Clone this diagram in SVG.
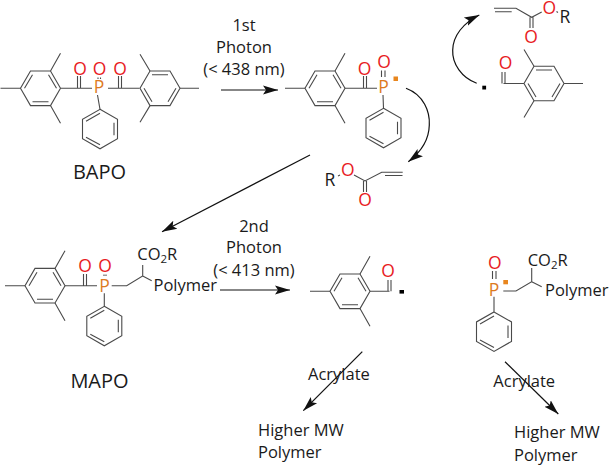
<svg xmlns="http://www.w3.org/2000/svg" width="609" height="466" viewBox="0 0 609 466">
<style>
text{font-family:"Open Sans","Noto Sans","Liberation Sans",sans-serif;fill:#1a1a1a}
.t{font-size:16.5px;text-anchor:middle}
.l{font-size:16.5px}
.n{font-size:20px;text-anchor:middle}
.o{font-size:17.5px;text-anchor:middle;fill:#e81c24}
.p{font-size:17.5px;text-anchor:middle;fill:#dd7a1e}
.r{font-size:17.5px;text-anchor:middle}
.b{fill:none;stroke:#4a4a4a;stroke-width:1.1}
.a{fill:none;stroke:#111;stroke-width:1.2}
</style>
<defs>
<marker id="h" markerUnits="userSpaceOnUse" markerWidth="16" markerHeight="12" viewBox="0 0 16 12" refX="15" refY="6" orient="auto"><path d="M0 1.5L15 6L0 10.5L3 6Z" fill="#111"/></marker>
<g id="ring1"><path class="b" d="M20 0L10-17.3H-10L-20 0L-10 17.3H10ZM-16 0L-8-13.5M16 0L8-13.5M-8 13.5H8"/></g>
<g id="ring2"><path class="b" d="M20 0L10-17.3H-10L-20 0L-10 17.3H10ZM-8-13.5H8M-16 0L-8 13.5M16 0L8 13.5"/></g>
<g id="mes1"><use href="#ring1"/><path class="b" d="M-20 0H-40M10-17.3L20-35M10 17.3L20 35"/></g>
<g id="mes2"><use href="#ring2"/><path class="b" d="M20 0H39M-10-17.3L-20-34M-10 17.3L-20 34"/></g>
<g id="ph"><path class="b" d="M0-19.5L17.5-9.5V10L0 20L-17.5 10V-9.5ZM-14-7.5L0-15.5M14-6V6.5M-14 8.5L0 16"/></g>
</defs>

<g id="bapo">
<use href="#mes1" x="40.5" y="88.3"/>
<use href="#mes2" x="160" y="88.3"/>
<use href="#ph" x="100" y="128.8"/>
<path class="b" d="M60.7 88.3H92M77.5 88.3V76M80.5 88.3V76M108 88.3H139.5M118.5 88.3V76M121.5 88.3V76M97.5 95L100 109.3M98 77.5V79M100.5 77.5V79"/>
<text class="o" x="80" y="74.5">O</text><text class="o" x="99.5" y="74.5">O</text><text class="o" x="120" y="74.5">O</text>
<text class="p" x="99" y="93">P</text>
<text class="n" x="99.5" y="179">BAPO</text>
</g>

<g id="radical-1">
<use href="#mes1" x="325" y="88.3"/>
<use href="#ph" x="383.5" y="127.8"/>
<path class="b" d="M345 88.3H377M363.5 88.3V76M366.5 88.3V76M381.5 70.5V77M385 70.5V77M383 95L383.5 108.3"/>
<text class="o" x="364.5" y="74.5">O</text><text class="o" x="384" y="68">O</text>
<text class="p" x="383.5" y="92.5">P</text>
<rect x="393.5" y="76.5" width="4.5" height="4.5" fill="#e8861e"/>
</g>

<g id="acrylate-1">
<path class="b" d="M354 175L365 181L381.7 172.3H402.7M385 175.5H402.5M363.5 181V192M366.5 181V192M338 176L340 175"/>
<text class="r" x="330" y="186">R</text>
<text class="o" x="347.7" y="176">O</text>
<text class="o" x="365" y="206">O</text>
</g>

<g id="acrylate-2">
<path class="b" d="M494 8.3H516L531.7 17.3L541.7 12M495 11.7H511.7M530 17.3V28M533 17.3V28M556.5 11.5L558 12.5"/>
<text class="o" x="549.3" y="14">O</text>
<text class="r" x="565" y="23">R</text>
<text class="o" x="531" y="42.5">O</text>
</g>

<g id="aroyl-radical-1">
<use href="#mes2" x="544" y="83.5"/>
<path class="b" d="M524 83.5H503.5M502 83.5V72M505 83.5V72"/>
<text class="o" x="505.5" y="69">O</text>
<rect x="482.3" y="85.7" width="3.8" height="3.8" fill="#000"/>
</g>

<g id="mapo">
<use href="#mes1" x="45" y="285.7"/>
<use href="#ph" x="104.3" y="325.8"/>
<path class="b" d="M65 285.7H97M83.5 285.7V274M86.5 285.7V274M104 274.5V276M106 274.5V276M104.3 293.3V306M111.7 285.7H126.7L142.7 276V265M142.7 276L151.7 280.7"/>
<text class="o" x="85" y="271.5">O</text><text class="o" x="105" y="271.5">O</text>
<text class="p" x="104.5" y="291.5">P</text>
<text class="l" x="137.3" y="260">CO<tspan font-size="11.5" dy="3">2</tspan><tspan dy="-3">R</tspan></text>
<text class="l" x="153.5" y="290.7">Polymer</text>
<text class="n" x="99.5" y="387.7">MAPO</text>
</g>

<g id="aroyl-radical-2">
<use href="#mes1" x="350" y="291.3"/>
<path class="b" d="M370 291.3H389.5M388 291.3V280M391 291.3V280"/>
<text class="o" x="388" y="277">O</text>
<rect x="399.5" y="290" width="4.5" height="3.6" fill="#000"/>
</g>

<g id="radical-2">
<use href="#ph" x="494" y="331.4"/>
<path class="b" d="M492.5 271V279M496 271V279M494 296.7V311.7M503.3 291H516L531.7 281.7V268M531.7 281.7L541.7 286.7"/>
<text class="o" x="494.7" y="269">O</text>
<text class="p" x="494" y="296">P</text>
<rect x="503.3" y="280" width="4.7" height="4.3" fill="#e8861e"/>
<text class="l" x="527.7" y="266">CO<tspan font-size="11.5" dy="3">2</tspan><tspan dy="-3">R</tspan></text>
<text class="l" x="545" y="295.7">Polymer</text>
</g>

<g id="connectors">
<path class="a" d="M221 90H278" marker-end="url(#h)"/>
<path class="a" d="M310 155L162 231.7" marker-end="url(#h)"/>
<path class="a" d="M220 290H290" marker-end="url(#h)"/>
<path class="a" d="M362.3 351.7L303.3 410.7" marker-end="url(#h)"/>
<path class="a" d="M505 361.7L558.3 414" marker-end="url(#h)"/>
<path class="a" d="M406 88.3C424 95 430 112 429.3 125C429 140 421 152 408.3 161.7" marker-end="url(#h)"/>
<path class="a" d="M476.7 83.3C462 78 452 64 452.7 50C453 36 463 23 479.3 15" marker-end="url(#h)"/>
</g>

<g id="labels">
<text class="t" x="244" y="31">1st</text>
<text class="t" x="244" y="53">Photon</text>
<text class="t" x="244" y="75">(&lt; 438 nm)</text>
<text class="t" x="254" y="231.5">2nd</text>
<text class="t" x="254" y="253">Photon</text>
<text class="t" x="254" y="275.5">(&lt; 413 nm)</text>
<text class="l" x="308" y="380">Acrylate</text>
<text class="l" x="493.3" y="386.7">Acrylate</text>
<text class="l" x="258" y="436">Higher MW</text>
<text class="l" x="258" y="458">Polymer</text>
<text class="l" x="514" y="438">Higher MW</text>
<text class="l" x="514" y="460.7">Polymer</text>
</g>
</svg>
